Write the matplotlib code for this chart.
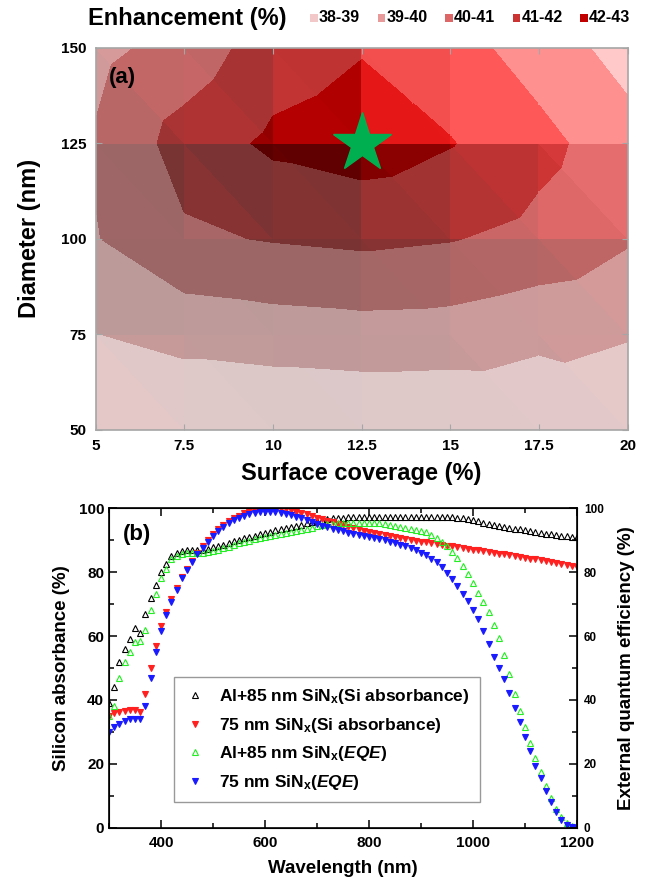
import numpy as np
import matplotlib
matplotlib.use('Agg')
import matplotlib.pyplot as plt
import matplotlib.colors as mcolors
from matplotlib.patches import Rectangle
from matplotlib.tri import Triangulation
from matplotlib.ticker import MultipleLocator

plt.rcParams['font.family'] = ['Liberation Sans', 'DejaVu Sans']
plt.rcParams['mathtext.fontset'] = 'custom'
plt.rcParams['mathtext.rm'] = 'Liberation Sans:bold'
plt.rcParams['mathtext.it'] = 'Liberation Sans:bold:italic'
plt.rcParams['mathtext.bf'] = 'Liberation Sans:bold'

# ---- panel (a): enhancement map ----
coverage = [5, 7.5, 10, 12.5, 15, 17.5, 20]
diameter = [50, 75, 100, 125, 150]
enhancement = np.array([
    [38.30, 38.00, 38.00, 38.05, 38.05, 38.10, 38.40],
    [38.98, 39.35, 39.50, 39.60, 39.55, 39.25, 39.05],
    [39.95, 40.85, 41.06, 41.20, 41.05, 40.70, 40.10],
    [40.10, 41.40, 42.20, 42.50, 42.05, 41.30, 40.40],
    [39.70, 40.40, 41.50, 41.93, 41.40, 40.55, 39.60],
])
levels = [38, 39, 40, 41, 42, 43]
band_labels = ['38-39', '39-40', '40-41', '41-42', '42-43']
band_colors = ['#f2c8c8', '#e89a9a', '#dd6666', '#cc3333', '#c00000']
best = (12.5, 125)

# ---- panel (b): spectra ----
wavelength = np.arange(300, 1201, 10)
al_abs = [39, 44, 52, 56, 59, 62.5, 61, 67, 72, 76,
          80, 82.5, 85, 86, 86.5, 86.8, 87, 87, 87, 87.2,
          87.8, 88.2, 88.6, 89.1, 89.6, 90, 90.5, 91, 91.4, 91.8,
          92.2, 92.6, 93, 93.4, 93.7, 94, 94.4, 94.8, 95.2, 95.6,
          96, 96.3, 96.6, 96.8, 97, 97, 97.1, 97.2, 97.2, 97.2,
          97.3, 97.3, 97.3, 97.3, 97.3, 97.3, 97.3, 97.3, 97.3, 97.3,
          97.3, 97.3, 97.3, 97.3, 97.2, 97.2, 97.1, 97, 96.8, 96.5,
          96.2, 95.8, 95.4, 95.1, 94.8, 94.5, 94.2, 93.9, 93.6, 93.3,
          93.0, 92.7, 92.5, 92.3, 92.0, 91.8, 91.6, 91.4, 91.2, 91.0,
          90.8]
ref_abs = [35, 35.8, 36.2, 36.5, 36.8, 36.8, 36.2, 42, 50, 57,
           63, 67.5, 71.5, 75, 78.5, 81, 83.5, 86, 88, 90,
           91.8, 93.3, 94.6, 95.8, 96.8, 97.6, 98.3, 98.9, 99.3, 99.6,
           99.8, 99.9, 99.9, 99.8, 99.6, 99.3, 98.9, 98.5, 98, 97.5,
           97, 96.5, 96, 95.5, 95.1, 94.7, 94.2, 93.8, 93.3, 92.9,
           92.5, 92.1, 91.8, 91.5, 91.2, 90.8, 90.6, 90.3, 90.0, 89.8,
           89.5, 89.3, 89.0, 88.8, 88.5, 88.2, 88.0, 87.8, 87.5, 87.3,
           87.0, 86.8, 86.5, 86.3, 86.0, 85.7, 85.5, 85.2, 85.0, 84.7,
           84.5, 84.2, 84.0, 83.7, 83.5, 83.2, 82.9, 82.6, 82.3, 81.9,
           81.5]
al_eqe = [35, 38, 47, 52, 55, 58, 58.5, 62, 68, 73,
          78, 81, 84, 85, 85.5, 85.8, 86, 86, 86, 86.2,
          86.6, 87, 87.4, 87.8, 88.5, 89, 89.4, 89.8, 90.2, 90.6,
          91, 91.3, 91.6, 92, 92.3, 92.6, 92.9, 93.2, 93.5, 93.9,
          94.3, 94.6, 94.9, 95.1, 95.3, 95.4, 95.4, 95.4, 95.3, 95.2,
          95.2, 95.2, 95.2, 95.0, 94.7, 94.3, 94.0, 93.7, 93.3, 93.0,
          92.8, 92.4, 91.5, 90.6, 89.4, 88, 86.3, 84.3, 82, 79.3,
          76.5, 73.5, 70.5, 67.5, 63.5, 59.5, 54, 48, 42, 36.5,
          31.5, 26.5, 22, 17.5, 13, 9.5, 6, 3.5, 1.5, 0.5,
          0]
ref_eqe = [30, 31.5, 32.5, 33.5, 34, 34.2, 34, 38, 47, 55,
           61.5, 66.5, 70.5, 74.5, 78, 80.5, 83, 85.5, 87.5, 89.5,
           91.2, 92.8, 94.2, 95.3, 96.3, 97, 97.6, 98.1, 98.4, 98.7,
           98.8, 98.8, 98.7, 98.5, 98.2, 97.8, 97.3, 96.8, 96.2, 95.6,
           95, 94.5, 94, 93.5, 93.1, 92.7, 92.3, 92, 91.6, 91.3,
           91, 90.7, 90.4, 90, 89.5, 89, 88.5, 88, 87.5, 86.8,
           86, 85.2, 84.2, 83, 81.5, 79.8, 77.8, 75.5, 73.2, 70.8,
           68.2, 65.2, 61.5, 57.5, 53.5, 50, 46.5, 42.2, 37.5, 33,
           28.5, 24, 19.5, 15.5, 11.5, 8, 5, 2.5, 1, 0.2,
           0]


def facet_colors(b):
    # lit surface look: shaded facets lose red, lit facets go bright red
    out = []
    for c in band_colors:
        rgb = np.array(mcolors.to_rgb(c)) * 255
        if b < 0:
            f = 1 + 0.55 * b
            new = rgb.min() + f * (rgb - rgb.min())
        else:
            new = rgb * (1 + 0.1 * b) + 32 * b
        out.append(tuple(np.clip(new, 0, 255) / 255))
    return out


fig = plt.figure(figsize=(6.47, 8.86), dpi=100)

# ---------------- panel (a) ----------------
ax = fig.add_axes([0.148, 0.515, 0.822, 0.431])
Z = enhancement
X, Y = np.meshgrid(coverage, diameter)
xf, yf, zf = X.ravel(), Y.ravel(), Z.ravel()
ncol = len(coverage)
for i in range(len(diameter) - 1):
    for j in range(ncol - 1):
        bl = i * ncol + j
        br, tl, tr = bl + 1, bl + ncol, bl + ncol + 1
        cgx = (zf[br] - zf[bl] + zf[tr] - zf[tl]) / 2
        cgy = (zf[tl] - zf[bl] + zf[tr] - zf[br]) / 2
        # two facets per cell, split top-left to bottom-right
        for tri_idx, gx, gy in (
                ([tl, br, bl], zf[br] - zf[bl], zf[tl] - zf[bl]),
                ([tl, tr, br], zf[tr] - zf[tl], zf[tr] - zf[br])):
            gx = 0.75 * cgx + 0.25 * gx
            gy = 0.75 * cgy + 0.25 * gy
            b = -(0.6 * gx + 0.45 * gy) - 0.2
            b = float(np.clip(b, -1, 0.5))
            if b > 0:
                b *= 2
            tri = Triangulation(xf, yf, triangles=[tri_idx])
            ax.tricontourf(tri, zf, levels=levels, colors=facet_colors(b))

ax.plot(*best, marker='*', color='#00b050', markersize=44,
        markeredgecolor='#00b050', zorder=5)
ax.set_xlim(5, 20)
ax.set_ylim(50, 150)
ax.set_xticks(coverage)
ax.set_xticklabels(['5', '7.5', '10', '12.5', '15', '17.5', '20'])
ax.set_yticks(diameter)
for sp in ax.spines.values():
    sp.set_color('#a6a6a6')
    sp.set_linewidth(1.2)
    sp.set_zorder(6)
ax.tick_params(direction='in', length=4, color='#a6a6a6', top=True, right=True,
               labelsize=11, pad=7)
for lab in ax.get_xticklabels() + ax.get_yticklabels():
    lab.set_fontweight('bold')
ax.set_xlabel('Surface coverage (%)', fontsize=17, fontweight='bold', labelpad=6)
ax.set_ylabel('Diameter (nm)', fontsize=17, fontweight='bold', labelpad=14)
ax.text(0.025, 0.95, '(a)', transform=ax.transAxes, fontsize=16,
        fontweight='bold', va='top', zorder=7)

# header legend
fig.text(88 / 647, 1 - 18 / 886, 'Enhancement (%)', fontsize=17,
         fontweight='bold', va='center', ha='left')
leg_x = [310, 377.5, 445, 512.5, 580]
for x0, lab, col in zip(leg_x, band_labels, band_colors):
    fig.patches.append(Rectangle((x0 / 647, 1 - 22 / 886), 7.5 / 647, 7.5 / 886,
                                 transform=fig.transFigure, facecolor=col,
                                 edgecolor='none'))
    fig.text((x0 + 9) / 647, 1 - 18 / 886, lab, fontsize=11.5,
             fontweight='bold', va='center', ha='left')

# ---------------- panel (b) ----------------
bx = fig.add_axes([0.1685, 0.0655, 0.7233, 0.3611])
ms = 4
bx.plot(wavelength, al_abs, linestyle='none', marker='^', markersize=ms,
        markerfacecolor='none', markeredgecolor='black', markeredgewidth=0.8,
        label=r'Al+85 nm SiN$_\mathregular{x}$(Si absorbance)')
bx.plot(wavelength, ref_abs, linestyle='none', marker='v', markersize=ms,
        color='#ff2020', markeredgewidth=0.8,
        label=r'75 nm SiN$_\mathregular{x}$(Si absorbance)')
bx.plot(wavelength, al_eqe, linestyle='none', marker='^', markersize=ms,
        markerfacecolor='none', markeredgecolor='#22ee22', markeredgewidth=0.8,
        label=r'Al+85 nm SiN$_\mathregular{x}$($\mathit{EQE}$)')
bx.plot(wavelength, ref_eqe, linestyle='none', marker='v', markersize=ms,
        color='#1a1aff', markeredgewidth=0.8,
        label=r'75 nm SiN$_\mathregular{x}$($\mathit{EQE}$)')

bx.set_xlim(300, 1200)
bx.set_ylim(0, 100)
bx.xaxis.set_major_locator(MultipleLocator(200))
bx.xaxis.set_minor_locator(MultipleLocator(100))
bx.yaxis.set_major_locator(MultipleLocator(20))
bx.yaxis.set_minor_locator(MultipleLocator(10))
bx.tick_params(which='both', direction='in', top=True, width=1.1)
bx.tick_params(which='major', length=6, labelsize=11)
bx.tick_params(which='minor', length=3.5)
bx.tick_params(axis='x', which='major', pad=6)
for lab in bx.get_xticklabels() + bx.get_yticklabels():
    lab.set_fontweight('bold')
for sp in bx.spines.values():
    sp.set_linewidth(1.2)
bx.set_xlabel('Wavelength (nm)', fontsize=13.5, fontweight='bold', labelpad=7)
bx.set_ylabel('Silicon absorbance (%)', fontsize=13.5, fontweight='bold',
              labelpad=6)
bx.text(0.03, 0.95, '(b)', transform=bx.transAxes, fontsize=16,
        fontweight='bold', va='top')

rx = bx.twinx()
rx.set_ylim(0, 100)
rx.yaxis.set_major_locator(MultipleLocator(20))
rx.yaxis.set_minor_locator(MultipleLocator(10))
rx.tick_params(which='both', direction='in', width=1.1)
rx.tick_params(which='major', length=6, labelsize=8.5, pad=5)
rx.tick_params(which='minor', length=3.5)
for lab in rx.get_yticklabels():
    lab.set_fontweight('bold')
rx.set_ylabel('External quantum efficiency (%)', fontsize=13.5,
              fontweight='bold', labelpad=10)

leg = bx.legend(loc='upper left', bbox_to_anchor=(0.12, 0.5), frameon=True,
                fancybox=False, edgecolor='#808080', handlelength=1.2,
                handletextpad=0.8, labelspacing=0.55, borderpad=0.6,
                prop={'size': 12.5, 'weight': 'bold'})
leg.get_frame().set_linewidth(1.0)

fig.savefig('out.png', dpi=100)
